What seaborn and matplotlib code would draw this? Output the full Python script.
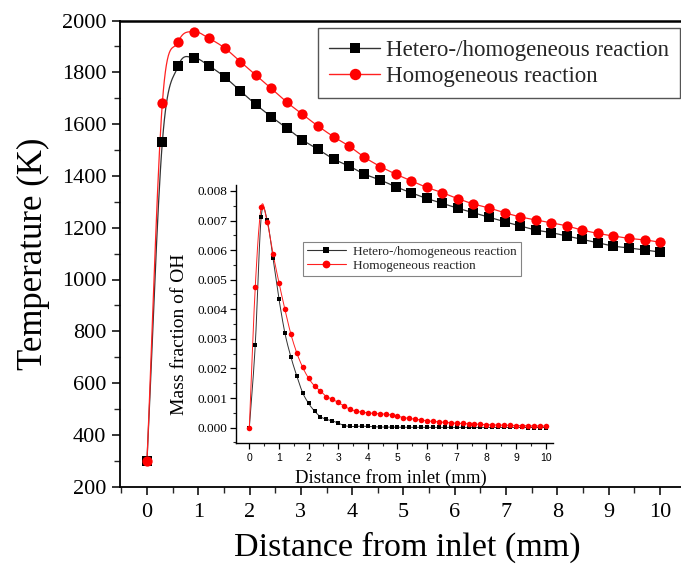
import numpy as np
import pandas as pd
import matplotlib
matplotlib.use("Agg")
import matplotlib.pyplot as plt
from matplotlib.lines import Line2D
from matplotlib.ticker import MultipleLocator
import seaborn as sns

# ---------------- data ----------------
series_names = ["Hetero-/homogeneous reaction", "Homogeneous reaction"]

main_x = [0.00, 0.30, 0.61, 0.91, 1.21, 1.52, 1.82, 2.12, 2.42, 2.73, 3.03, 3.33,
          3.64, 3.94, 4.24, 4.55, 4.85, 5.15, 5.45, 5.76, 6.06, 6.36, 6.67, 6.97,
          7.27, 7.58, 7.88, 8.18, 8.48, 8.79, 9.09, 9.39, 9.70, 10.00]
temp_hetero = [300, 1532, 1825, 1856, 1825, 1781, 1728, 1676, 1629, 1584, 1539, 1503,
               1465, 1438, 1407, 1384, 1358, 1335, 1313, 1294, 1275, 1258, 1240, 1223,
               1207, 1191, 1181, 1168, 1155, 1142, 1129, 1122, 1114, 1106]
temp_homo = [300, 1683, 1918, 1957, 1931, 1893, 1841, 1790, 1738, 1684, 1638, 1593,
             1551, 1515, 1472, 1436, 1407, 1381, 1356, 1335, 1312, 1292, 1276, 1258,
             1242, 1230, 1219, 1207, 1191, 1178, 1168, 1159, 1153, 1144]

inset_x = [0.0, 0.2, 0.4, 0.6, 0.8, 1.0, 1.2, 1.4, 1.6, 1.8, 2.0, 2.2, 2.4, 2.6, 2.8,
           3.0, 3.2, 3.4, 3.6, 3.8, 4.0, 4.2, 4.4, 4.6, 4.8, 5.0, 5.2, 5.4, 5.6, 5.8,
           6.0, 6.2, 6.4, 6.6, 6.8, 7.0, 7.2, 7.4, 7.6, 7.8, 8.0, 8.2, 8.4, 8.6, 8.8,
           9.0, 9.2, 9.4, 9.6, 9.8, 10.0]
oh_hetero_e3 = [0.00, 2.80, 7.12, 7.02, 5.72, 4.35, 3.20, 2.40, 1.75, 1.18, 0.82, 0.56,
                0.37, 0.28, 0.23, 0.15, 0.07, 0.04, 0.04, 0.05, 0.04, 0.03, 0.02, 0.02,
                0.02, 0.015, 0.012, 0.011, 0.010, 0.010, 0.009, 0.009, 0.008, 0.008,
                0.008, 0.007, 0.007, 0.007, 0.006, 0.006, 0.006, 0.006, 0.005, 0.005,
                0.005, 0.005, 0.005, 0.004, 0.004, 0.004, 0.004]
oh_homo_e3 = [0.00, 4.76, 7.45, 6.96, 5.87, 4.90, 4.00, 3.17, 2.53, 2.04, 1.67, 1.41,
              1.24, 1.05, 0.96, 0.85, 0.73, 0.62, 0.56, 0.52, 0.50, 0.48, 0.47, 0.46,
              0.42, 0.38, 0.34, 0.31, 0.28, 0.26, 0.23, 0.21, 0.19, 0.18, 0.16, 0.15,
              0.14, 0.13, 0.12, 0.11, 0.10, 0.09, 0.09, 0.08, 0.08, 0.07, 0.07, 0.06,
              0.06, 0.06, 0.05]

main_xticks = [0, 1, 2, 3, 4, 5, 6, 7, 8, 9, 10]
main_yticks = [200, 400, 600, 800, 1000, 1200, 1400, 1600, 1800, 2000]
inset_yticks = [0.000, 0.001, 0.002, 0.003, 0.004, 0.005, 0.006, 0.007, 0.008]

# ---------------- style ----------------
sns.set_theme(style="ticks")
plt.rcParams["font.family"] = ["Liberation Serif", "DejaVu Serif"]

colors = {"Hetero-/homogeneous reaction": "#000000", "Homogeneous reaction": "#ff0000"}
line_colors = {"Hetero-/homogeneous reaction": "#333333", "Homogeneous reaction": "#ff2020"}
markers = {"Hetero-/homogeneous reaction": "s", "Homogeneous reaction": "o"}


def smooth(x, y, n=16):
    """Catmull-Rom curve through the data points (for the connecting line)."""
    P = np.column_stack([np.asarray(x, float), np.asarray(y, float)])
    m = np.zeros_like(P)
    m[1:-1] = (P[2:] - P[:-2]) / 2.0
    m[0] = P[1] - P[0]
    m[-1] = P[-1] - P[-2]
    t = np.linspace(0, 1, n, endpoint=False)[:, None]
    h00 = 2 * t**3 - 3 * t**2 + 1
    h10 = t**3 - 2 * t**2 + t
    h01 = -2 * t**3 + 3 * t**2
    h11 = t**3 - t**2
    segs = [h00 * P[i] + h10 * m[i] + h01 * P[i + 1] + h11 * m[i + 1] for i in range(len(P) - 1)]
    out = np.vstack(segs + [P[-1:]])
    return out[:, 0], out[:, 1]


main_df = pd.concat([
    pd.DataFrame({"x": main_x, "y": temp_hetero, "series": series_names[0]}),
    pd.DataFrame({"x": main_x, "y": temp_homo, "series": series_names[1]}),
])
inset_df = pd.concat([
    pd.DataFrame({"x": inset_x, "y": np.array(oh_hetero_e3) * 1e-3, "series": series_names[0]}),
    pd.DataFrame({"x": inset_x, "y": np.array(oh_homo_e3) * 1e-3, "series": series_names[1]}),
])

W, H = 681, 577
fig = plt.figure(figsize=(W / 100, H / 100), dpi=100)
fig.patch.set_facecolor("white")

# main axes
ax = fig.add_axes([120 / W, 1 - 486.7 / H, (681 - 120) / W, (486.7 - 20.5) / H])
ax.set_facecolor("white")
for name in series_names:
    d = main_df[main_df.series == name]
    sx, sy = smooth(d.x, d.y)
    ax.plot(sx, sy, color=line_colors[name], lw=0.9, zorder=2)
    sns.scatterplot(data=d, x="x", y="y", marker=markers[name], color=colors[name],
                    s=(6.6 if name == series_names[0] else 7.4) ** 2, linewidth=0,
                    ax=ax, zorder=3, legend=False)

ax.set_xlim(-0.526, 10.41)
ax.set_ylim(200, 2000)
ax.set_xticks(main_xticks)
ax.set_yticks(main_yticks)
ax.xaxis.set_minor_locator(MultipleLocator(0.5))
ax.yaxis.set_minor_locator(MultipleLocator(100))
ax.tick_params(axis="both", which="major", direction="out", length=6, width=1.1,
               labelsize=16, colors="black", pad=4)
ax.tick_params(axis="both", which="minor", direction="out", length=4, width=1.0)
ax.tick_params(axis="x", which="major", pad=6)
ax.spines["right"].set_visible(False)
for s in ["left", "bottom", "top"]:
    ax.spines[s].set_color("black")
    ax.spines[s].set_linewidth(1.3)
ax.spines["top"].set_linewidth(1.8)
ax.set_xlabel("Distance from inlet (mm)", fontsize=24.5, color="black")
ax.set_ylabel("Temperature (K)", fontsize=25, color="black")
ax.xaxis.set_label_coords(0.513, -0.097)
ax.yaxis.set_label_coords(-0.124, 0.5)

handles = [Line2D([], [], color=line_colors[n], lw=1.0, marker=markers[n],
                  markerfacecolor=colors[n], markeredgewidth=0,
                  markersize=(7.4 if n == series_names[0] else 8.2))
           for n in series_names]
leg = ax.legend(handles, series_names, loc="upper right",
                bbox_to_anchor=(680 / W, 1 - 28.3 / H), bbox_transform=fig.transFigure,
                fontsize=16.5, frameon=True, fancybox=False, framealpha=1,
                edgecolor="#555555", handlelength=2.2, handletextpad=0.25,
                labelspacing=0.22, borderpad=0.5, borderaxespad=0)
leg.get_frame().set_linewidth(1.0)

# inset axes
ins = fig.add_axes([236 / W, 1 - 443.3 / H, (553 - 236) / W, (443.3 - 185) / H])
ins.patch.set_alpha(0)
for name in series_names:
    d = inset_df[inset_df.series == name]
    sx, sy = smooth(d.x, d.y)
    ins.plot(sx, sy, color=line_colors[name], lw=0.7, zorder=2)
    sns.scatterplot(data=d, x="x", y="y", marker=markers[name], color=colors[name],
                    s=(3.4 if name == series_names[0] else 4.0) ** 2, linewidth=0,
                    ax=ins, zorder=3, legend=False)
ins.set_xlim(-0.45, 10.25)
ins.set_ylim(-0.00053, 0.0082)
ins.set_xticks(main_xticks)
ins.set_yticks(inset_yticks)
ins.set_yticklabels([f"{v:.3f}" for v in inset_yticks])
ins.xaxis.set_minor_locator(MultipleLocator(0.5))
ins.yaxis.set_minor_locator(MultipleLocator(0.0005))
ins.tick_params(axis="both", which="major", direction="out", length=4, width=0.9,
                colors="black", pad=2)
ins.tick_params(axis="y", which="major", labelsize=9.5)
ins.tick_params(axis="x", which="major", labelsize=7.5, pad=3)
for lbl in ins.get_xticklabels():
    lbl.set_fontfamily(["Liberation Sans", "DejaVu Sans"])
ins.tick_params(axis="both", which="minor", direction="out", length=2.5, width=0.8)
for s in ["right", "top"]:
    ins.spines[s].set_visible(False)
for s in ["left", "bottom"]:
    ins.spines[s].set_color("black")
    ins.spines[s].set_linewidth(1.0)
ins.set_xlabel("Distance from inlet (mm)", fontsize=13.5, color="black")
ins.set_ylabel("Mass fraction of OH", fontsize=14, color="black")
ins.xaxis.set_label_coords(0.49, -0.1)
ins.yaxis.set_label_coords(-0.15, 0.423)

ihandles = [Line2D([], [], color=line_colors[n], lw=0.8, marker=markers[n],
                   markerfacecolor=colors[n], markeredgewidth=0,
                   markersize=(5.0 if n == series_names[0] else 5.6))
            for n in series_names]
ileg = ins.legend(ihandles, series_names, loc="upper left",
                  bbox_to_anchor=(302.7 / W, 1 - 241.7 / H), bbox_transform=fig.transFigure,
                  fontsize=9.5, frameon=True, fancybox=False, facecolor="none",
                  edgecolor="#666666", handlelength=3.0, handletextpad=0.5,
                  labelspacing=0.15, borderpad=0.3, borderaxespad=0)
ileg.get_frame().set_linewidth(0.8)

fig.savefig("out.png", dpi=100, facecolor="white")
